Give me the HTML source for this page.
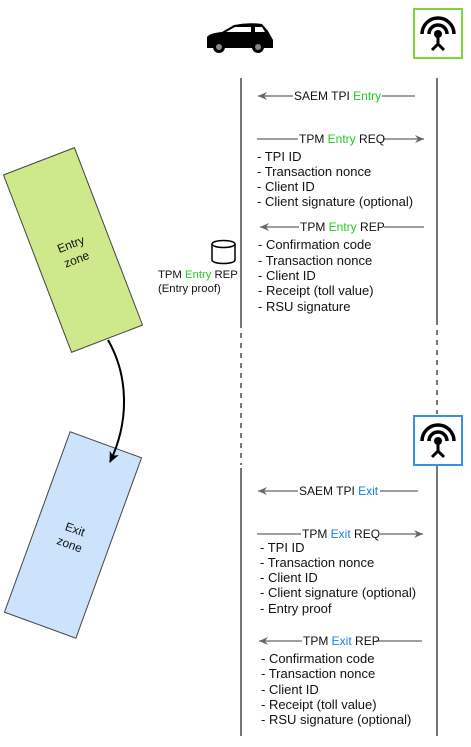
<!DOCTYPE html>
<html><head><style>
html,body{margin:0;padding:0;background:#fff;}
svg{display:block;}
text{font-family:"Liberation Sans",Arial,sans-serif;font-size:12px;fill:#111;}
.l{font-size:13px;}
.g{fill:#22cc22;}
.b{fill:#1a7fe0;}
</style></head><body>
<svg width="471" height="747" viewBox="0 0 471 747" xmlns="http://www.w3.org/2000/svg">
<defs>
<marker id="ah" markerWidth="10" markerHeight="10" refX="9" refY="5" orient="auto" markerUnits="userSpaceOnUse">
<path d="M0,1 L9,5 L0,9 L3,5 Z" fill="#666"/>
</marker>
<marker id="bh" markerWidth="12" markerHeight="12" refX="10" refY="6" orient="auto" markerUnits="userSpaceOnUse">
<path d="M0,1 L11,6 L0,11 L3,6 Z" fill="#000"/>
</marker>
<g id="ant">
<path d="M-16,8 A16,16 0 0 1 16,8" fill="none" stroke="#000" stroke-width="3.5"/>
<path d="M-9,8 A9,9 0 0 1 9,8" fill="none" stroke="#000" stroke-width="3.5"/>
<circle cx="0" cy="8" r="4" fill="#000"/>
<path d="M0,8 L0,18 M0,18 L-6,24 M0,18 L6,24" stroke="#000" stroke-width="3" fill="none"/>
</g>
</defs>

<g stroke="#777" stroke-width="2" fill="none">
<line x1="241" y1="78" x2="241" y2="328"/>
<line x1="241" y1="333" x2="241" y2="465" stroke-dasharray="5,5"/>
<line x1="241" y1="468" x2="241" y2="736"/>
<line x1="437" y1="78" x2="437" y2="325"/>
<line x1="437" y1="330" x2="437" y2="414" stroke-dasharray="5,5"/>
<line x1="437" y1="466" x2="437" y2="736"/>
</g>

<g fill="#000">
<path d="M207,37 Q210,33 222,32 L234,25 Q248,22 262,24 L268,31 L273,40 L273,48 L207,48 Z"/>
<path d="M226,32 L235,27 L251,27 L251,32 Z" fill="#fff"/>
<path d="M255,27 L262,27 L265,32 L255,32 Z" fill="#fff"/>
<circle cx="219" cy="47" r="6"/><circle cx="258" cy="47" r="6"/>
<circle cx="219" cy="47" r="3" fill="#888"/><circle cx="258" cy="47" r="3" fill="#888"/>
</g>

<rect x="414" y="9" width="48" height="49" fill="#fff" stroke="#7ed63a" stroke-width="2"/>
<use href="#ant" x="438" y="26"/>
<rect x="414" y="416" width="48" height="49" fill="#fff" stroke="#3a8fe0" stroke-width="2"/>
<use href="#ant" x="438" y="433"/>

<g transform="translate(73,250) rotate(-21)">
<rect x="-38" y="-95" width="76" height="190" fill="#cde98b" stroke="#444" stroke-width="1"/>
<text x="0" y="-2" text-anchor="middle">Entry</text>
<text x="0" y="14" text-anchor="middle">zone</text>
</g>
<g transform="translate(73,535) rotate(20)">
<rect x="-38" y="-96" width="76" height="192" fill="#cce3fb" stroke="#444" stroke-width="1"/>
<text x="0" y="-2" text-anchor="middle">Exit</text>
<text x="0" y="14" text-anchor="middle">zone</text>
</g>
<path d="M108,340 C128,375 130,420 110,462" fill="none" stroke="#000" stroke-width="2" marker-end="url(#bh)"/>

<g fill="#fff" stroke="#000" stroke-width="1.5">
<path d="M212,244 L212,260 A11.5,3.5 0 0 0 235,260 L235,244"/>
<ellipse cx="223.5" cy="244" rx="11.5" ry="3.5"/>
</g>
<text x="158" y="278" style="font-size:11.3px">TPM <tspan class="g">Entry</tspan> REP</text>
<text x="158" y="292" style="font-size:11.3px">(Entry proof)</text>

<g stroke="#666" stroke-width="1.3" fill="none">
<line x1="415" y1="96" x2="382" y2="96"/><line x1="293" y1="96" x2="258" y2="96" marker-end="url(#ah)"/>
<line x1="257" y1="139" x2="298" y2="139"/><line x1="383" y1="139" x2="424" y2="139" marker-end="url(#ah)"/>
<line x1="424" y1="227" x2="384" y2="227"/><line x1="299" y1="227" x2="260" y2="227" marker-end="url(#ah)"/>
<line x1="418" y1="491" x2="380" y2="491"/><line x1="298" y1="491" x2="258" y2="491" marker-end="url(#ah)"/>
<line x1="257" y1="534" x2="301" y2="534"/><line x1="380" y1="534" x2="423" y2="534" marker-end="url(#ah)"/>
<line x1="422" y1="641" x2="376" y2="641"/><line x1="302" y1="641" x2="259" y2="641" marker-end="url(#ah)"/>
</g>
<text x="294" y="100">SAEM TPI <tspan class="g">Entry</tspan></text>
<text x="299" y="143">TPM <tspan class="g">Entry</tspan> REQ</text>
<text x="300" y="231">TPM <tspan class="g">Entry</tspan> REP</text>
<g class="l">
<text class="l" x="257" y="161">- TPI ID</text>
<text class="l" x="257" y="176">- Transaction nonce</text>
<text class="l" x="257" y="191">- Client ID</text>
<text class="l" x="257" y="206">- Client signature (optional)</text>
<text class="l" x="258" y="249">- Confirmation code</text>
<text class="l" x="258" y="265">- Transaction nonce</text>
<text class="l" x="258" y="280">- Client ID</text>
<text class="l" x="258" y="295">- Receipt (toll value)</text>
<text class="l" x="258" y="311">- RSU signature</text>
</g>

<text x="299" y="495">SAEM TPI <tspan class="b">Exit</tspan></text>
<text x="302" y="538">TPM <tspan class="b">Exit</tspan> REQ</text>
<text x="303" y="645">TPM <tspan class="b">Exit</tspan> REP</text>
<g>
<text class="l" x="260" y="552">- TPI ID</text>
<text class="l" x="260" y="567">- Transaction nonce</text>
<text class="l" x="260" y="582">- Client ID</text>
<text class="l" x="260" y="597">- Client signature (optional)</text>
<text class="l" x="260" y="613">- Entry proof</text>
<text class="l" x="261" y="663">- Confirmation code</text>
<text class="l" x="261" y="678">- Transaction nonce</text>
<text class="l" x="261" y="694">- Client ID</text>
<text class="l" x="261" y="709">- Receipt (toll value)</text>
<text class="l" x="261" y="724">- RSU signature (optional)</text>
</g>
</svg>
</body></html>
